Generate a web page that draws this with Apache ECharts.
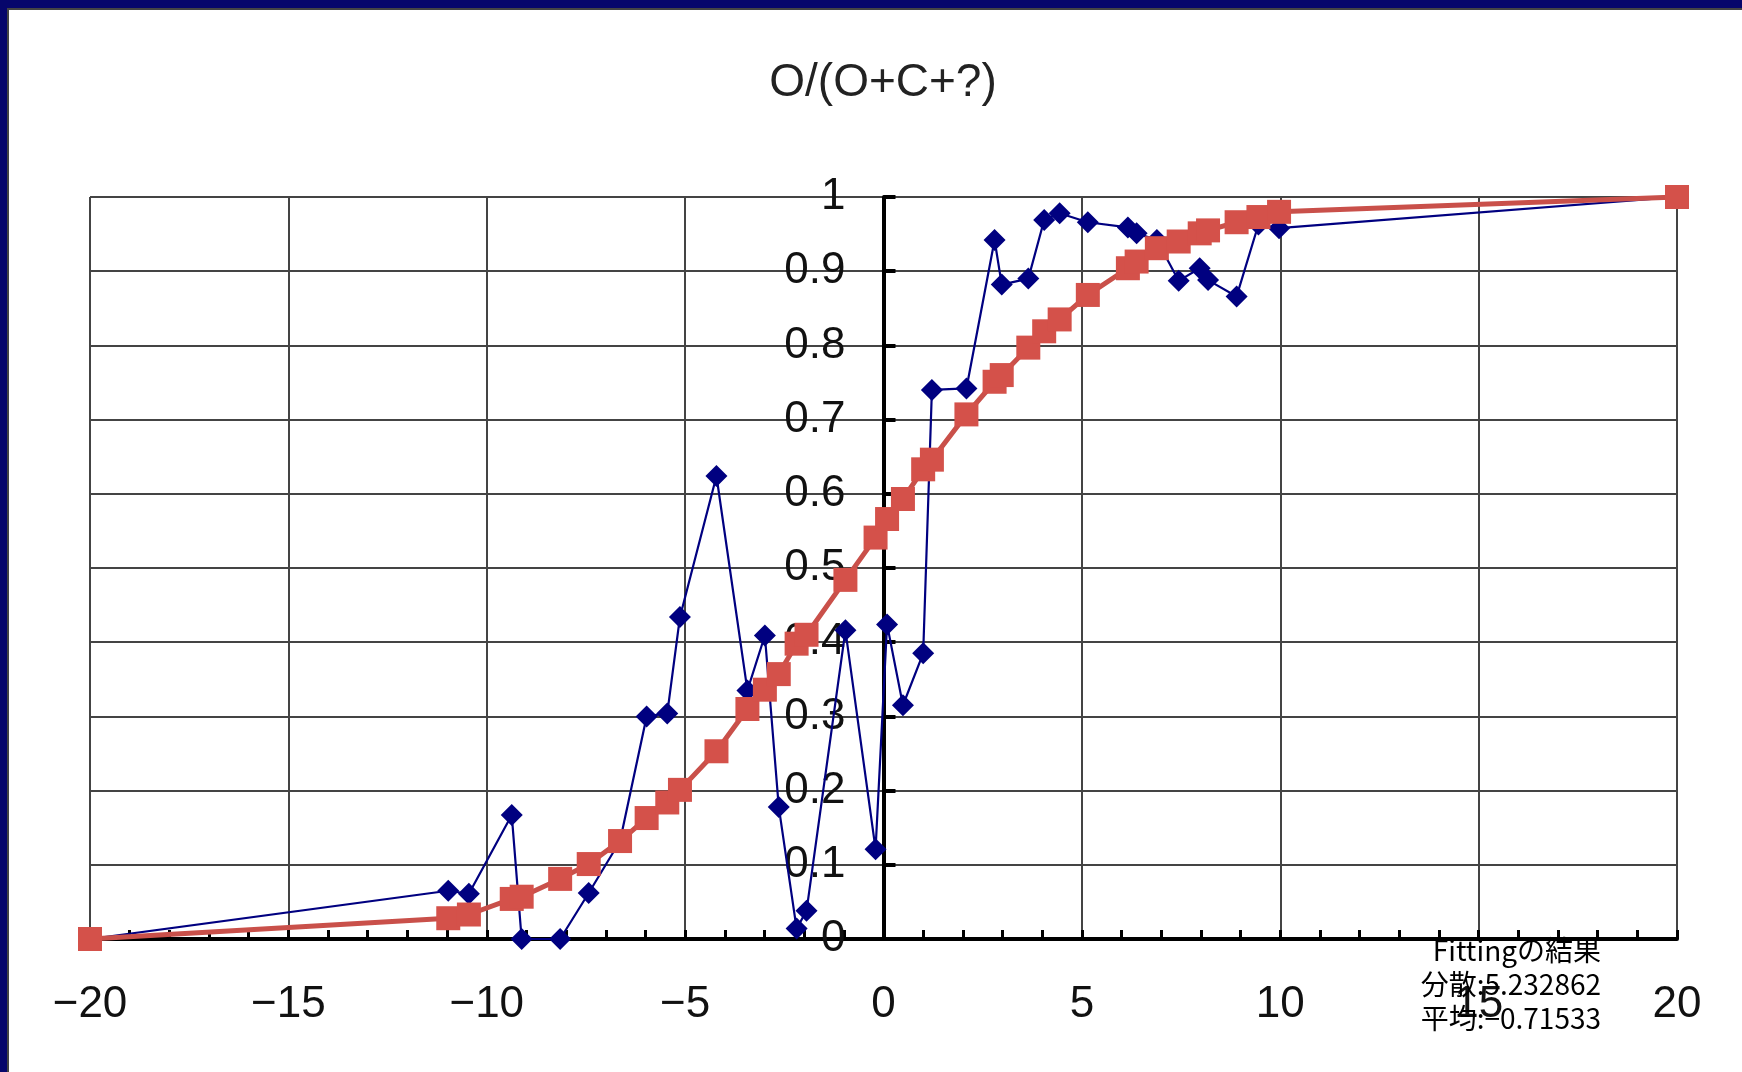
<!DOCTYPE html>
<html>
<head>
<meta charset="utf-8">
<script src="https://cdn.jsdelivr.net/npm/echarts@6/dist/echarts.min.js"></script>
<style>
html,body{margin:0;padding:0;background:#ffffff;}
#chart{width:1742px;height:1072px;}
</style>
</head>
<body>
<div id="chart"></div>
<script>
// ---- data ----
const chartTitle = 'O/(O+C+?)';
const xValues = [-20, -10.97, -10.45, -9.37, -9.12, -8.15, -7.43, -6.64, -5.97, -5.45, -5.13, -4.21, -3.43, -2.99, -2.64, -2.19, -1.94, -0.96, -0.20, 0.09, 0.49, 1.00, 1.22, 2.09, 2.80, 2.98, 3.65, 4.05, 4.44, 5.15, 6.16, 6.38, 6.89, 7.44, 7.97, 8.18, 8.90, 9.45, 9.97, 20];
const observed = [0, 0.065, 0.061, 0.167, 0, 0, 0.062, 0.132, 0.300, 0.304, 0.434, 0.624, 0.335, 0.409, 0.178, 0.014, 0.038, 0.416, 0.121, 0.424, 0.315, 0.385, 0.740, 0.742, 0.942, 0.882, 0.890, 0.969, 0.978, 0.966, 0.959, 0.951, 0.942, 0.887, 0.904, 0.888, 0.866, 0.963, 0.958, 1];
const fitted = [0, 0.028, 0.033, 0.054, 0.057, 0.081, 0.101, 0.132, 0.163, 0.184, 0.201, 0.253, 0.310, 0.336, 0.357, 0.398, 0.410, 0.484, 0.541, 0.566, 0.593, 0.633, 0.646, 0.707, 0.751, 0.760, 0.797, 0.819, 0.835, 0.868, 0.904, 0.913, 0.931, 0.940, 0.951, 0.955, 0.966, 0.973, 0.980, 1];
const resultLines = ['Fittingの結果', '分散:5.232862', '平均:−0.71533'];

const observedData = xValues.map((x, i) => [x, observed[i]]);
const fittedData = xValues.map((x, i) => [x, fitted[i]]);

const W = 1742, H = 1072;
const gridLeft = 90, gridRight = 65;
const zeroX = gridLeft + (W - gridLeft - gridRight) / 2;

const chart = echarts.init(document.getElementById('chart'), null, {renderer: 'canvas'});
const labelFont = '"Liberation Sans", Arial, sans-serif';
const cjkFont = '"Noto Sans CJK JP", "Noto Sans", sans-serif';

chart.setOption({
  backgroundColor: '#ffffff',
  animation: false,
  grid: {left: gridLeft, right: gridRight, top: 197, bottom: 133, containLabel: false},
  xAxis: {
    type: 'value', min: -20, max: 20, interval: 5,
    axisLine: {show: true, onZero: false, lineStyle: {color: '#000', width: 4}},
    axisTick: {show: true, inside: true, length: 9, lineStyle: {color: '#000', width: 3}},
    minorTick: {show: true, splitNumber: 5, length: 9, lineStyle: {color: '#000', width: 3}},
    splitLine: {show: true, lineStyle: {color: '#444', width: 2}},
    axisLabel: {
      fontSize: 44, color: '#111', margin: 44, fontFamily: labelFont,
      showMinLabel: true, showMaxLabel: true,
      formatter: v => String(v).replace('-', '\u2212')
    }
  },
  yAxis: {
    type: 'value', min: 0, max: 1, interval: 0.1,
    offset: -(zeroX - gridLeft),
    axisLine: {show: true, onZero: false, lineStyle: {color: '#000', width: 4}},
    axisTick: {show: true, inside: true, length: 12, lineStyle: {color: '#000', width: 4}},
    splitLine: {show: true, lineStyle: {color: '#444', width: 2}},
    axisLabel: {
      fontSize: 44, color: '#111', margin: 38, fontFamily: labelFont,
      showMinLabel: true, showMaxLabel: true,
      formatter: v => String(Math.round(v * 10) / 10)
    }
  },
  series: [
    {
      name: 'observed', type: 'line', data: observedData,
      symbol: 'diamond', symbolSize: 22, showAllSymbol: true,
      itemStyle: {color: '#000080'},
      lineStyle: {color: '#000080', width: 2.2},
      z: 2
    },
    {
      name: 'fitted', type: 'line', data: fittedData,
      symbol: 'rect', symbolSize: 24, showAllSymbol: true,
      itemStyle: {color: '#d4514a'},
      lineStyle: {color: '#c9504a', width: 5},
      z: 3
    }
  ],
  graphic: [
    {type: 'rect', shape: {x: 0, y: 0, width: W, height: 8}, style: {fill: '#06066b'}, z: 100},
    {type: 'rect', shape: {x: 0, y: 0, width: 7, height: H}, style: {fill: '#06066b'}, z: 100},
    {type: 'rect', shape: {x: 7, y: 8, width: W - 7, height: 2}, style: {fill: '#444'}, z: 100},
    {type: 'rect', shape: {x: 7, y: 8, width: 2, height: H - 8}, style: {fill: '#444'}, z: 100},
    {type: 'text', x: 883, y: 83, z: 100,
      style: {text: chartTitle, fill: '#222', font: '46px ' + labelFont, textAlign: 'center', textVerticalAlign: 'middle'}},
    {type: 'text', x: 1601, y: 950, z: 100,
      style: {text: resultLines[0], fill: '#000', font: '28px ' + cjkFont, textAlign: 'right', textVerticalAlign: 'middle'}},
    {type: 'text', x: 1601, y: 984, z: 100,
      style: {text: resultLines[1], fill: '#000', font: '28px ' + cjkFont, textAlign: 'right', textVerticalAlign: 'middle'}},
    {type: 'text', x: 1601, y: 1018, z: 100,
      style: {text: resultLines[2], fill: '#000', font: '28px ' + cjkFont, textAlign: 'right', textVerticalAlign: 'middle'}}
  ]
});
</script>
</body>
</html>
